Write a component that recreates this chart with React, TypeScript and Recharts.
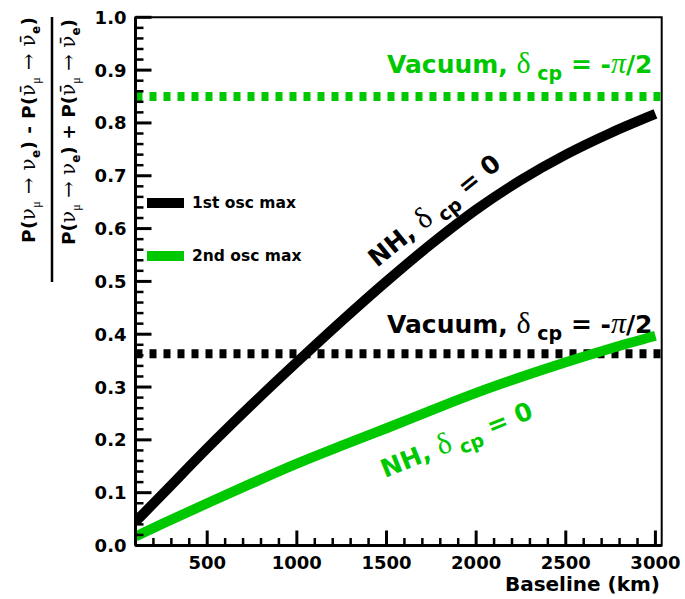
import React from 'react';
import { LineChart, Line, XAxis, YAxis, ReferenceLine, ReferenceArea, Legend, Customized } from 'recharts';

const baselines = [100, 250, 500, 750, 1000, 1250, 1500, 1750, 2000, 2250, 2500, 2750, 3000];
const nhFirstMax = [0.045, 0.097, 0.184, 0.267, 0.347, 0.425, 0.5, 0.571, 0.636, 0.692, 0.74, 0.781, 0.817];
const nhSecondMax = [0.017, 0.041, 0.08, 0.118, 0.155, 0.189, 0.222, 0.256, 0.289, 0.319, 0.347, 0.373, 0.397];
const vacuumFirstMax = 0.363;
const vacuumSecondMax = 0.85;

const xDomain = [100, 3035];
const xTicks = [200, 300, 400, 500, 600, 700, 800, 900, 1000, 1100, 1200, 1300, 1400, 1500, 1600, 1700, 1800, 1900, 2000, 2100, 2200, 2300, 2400, 2500, 2600, 2700, 2800, 2900, 3000];
const xMajorTicks = [500, 1000, 1500, 2000, 2500, 3000];
const yTicks = Array.from({ length: 51 }, (_, i) => Math.round(i * 2) / 100);
const yMajorLabels: Record<string, string> = {
  '0': '0.0', '0.1': '0.1', '0.2': '0.2', '0.3': '0.3', '0.4': '0.4', '0.5': '0.5',
  '0.6': '0.6', '0.7': '0.7', '0.8': '0.8', '0.9': '0.9', '1': '1.0',
};

const legendItems = [
  { label: '1st osc max', color: '#000000' },
  { label: '2nd osc max', color: '#00c800' },
];

const GREEN = '#00c800';
const FONT = 'DejaVu Sans';
const SERIF = 'Liberation Serif';
const NU_FONT = 'DejaVu Serif';

const data = baselines.map((b, i) => ({ baseline: b, first: nhFirstMax[i], second: nhSecondMax[i] }));

const YTick = (props: any) => {
  const { x, y, payload } = props;
  const v = payload.value;
  const label = yMajorLabels[String(v)];
  const major = label !== undefined;
  return (
    <g>
      <line x1={x} x2={x + (major ? 16 : 8)} y1={y} y2={y} stroke="#000" strokeWidth={major ? 3 : 2.5} />
      {major && (
        <text x={x - 9} y={y + 6.5} textAnchor="end" fontFamily={FONT} fontWeight="bold" fontSize={18} fill="#000">
          {label}
        </text>
      )}
    </g>
  );
};

const XTick = (props: any) => {
  const { x, y, payload } = props;
  const v = payload.value;
  const major = xMajorTicks.includes(v);
  return (
    <g>
      <line x1={x} x2={x} y1={y} y2={y - (major ? 15 : 7.5)} stroke="#000" strokeWidth={major ? 3 : 2.5} />
      {major && (
        <text x={x} y={y + 23} textAnchor="middle" fontFamily={FONT} fontWeight="bold" fontSize={18} fill="#000">
          {v}
        </text>
      )}
    </g>
  );
};

const Sub = ({ children, size = 12, dy = 5, serif = false }: any) => (
  <tspan fontSize={size} dy={dy} fontFamily={serif ? SERIF : FONT} fontWeight={serif ? 'normal' : 'bold'}>
    {children}
  </tspan>
);

const Fraction = ({ sign }: { sign: string }) => (
  <>
    <tspan>P(</tspan>
    <tspan fontFamily={NU_FONT} fontWeight="normal" fontSize={20}>ν</tspan>
    <Sub serif>μ</Sub>
    <tspan dy={-5} fontFamily={NU_FONT} fontWeight="normal" fontSize={20}> → ν</tspan>
    <Sub>e</Sub>
    <tspan dy={-5}>{`) ${sign} P(`}</tspan>
    <tspan fontFamily={NU_FONT} fontWeight="normal" fontSize={20}>{'ν\u0304'}</tspan>
    <Sub serif>μ</Sub>
    <tspan dy={-5} fontFamily={NU_FONT} fontWeight="normal" fontSize={20}>{' → ν\u0304'}</tspan>
    <Sub>e</Sub>
    <tspan dy={-5}>)</tspan>
  </>
);

const Label = ({ head, tail, color, transform, x, y }: any) => (
  <text x={x} y={y} transform={transform} fontFamily={FONT} fontWeight="bold" fontSize={25} fill={color}>
    {head}{' '}
    <tspan fontFamily={SERIF} fontWeight="normal" fontSize={30}>δ</tspan>
    <tspan fontSize={19} dy={7}> cp</tspan>
    <tspan dy={-7}>{tail}</tspan>
  </text>
);

const VacLabel = ({ color, x, y }: any) => (
  <text x={x} y={y} fontFamily={FONT} fontWeight="bold" fontSize={25} fill={color}>
    Vacuum,{' '}
    <tspan fontFamily={SERIF} fontWeight="normal" fontSize={30}>δ</tspan>
    <tspan fontSize={19} dy={7}> cp</tspan>
    <tspan dy={-7}> = -</tspan>
    <tspan fontFamily={SERIF} fontWeight="normal" fontStyle="italic" fontSize={30}>π</tspan>
    <tspan>/2</tspan>
  </text>
);

const Decorations = () => (
  <g>
    <g fontFamily={FONT} fontWeight="bold" fill="#000" fontSize={18.5}>
      <text transform="translate(35,130) rotate(-90)" textAnchor="middle" textLength={226} lengthAdjust="spacing">
        <Fraction sign="-" />
      </text>
      <line x1={52} x2={52} y1={17} y2={282} stroke="#000" strokeWidth={2.5} />
      <text transform="translate(75,132) rotate(-90)" textAnchor="middle" textLength={226} lengthAdjust="spacing">
        <Fraction sign="+" />
      </text>
    </g>
    <text x={660} y={591} textAnchor="end" fontFamily={FONT} fontWeight="bold" fontSize={20} fill="#000">
      Baseline (km)
    </text>
    <VacLabel color={GREEN} x={387} y={73} />
    <VacLabel color="#000" x={387} y={333} />
    <Label head="NH," tail=" = 0" color="#000" transform="translate(377,268) rotate(-39)" x={0} y={0} />
    <Label head="NH," tail=" = 0" color={GREEN} transform="translate(385,478) rotate(-22)" x={0} y={0} />
  </g>
);

const LegendContent = () => (
  <div style={{ fontFamily: FONT, fontWeight: 'bold', fontSize: 15.5, color: '#000' }}>
    {legendItems.map((item) => (
      <div key={item.label} style={{ display: 'flex', alignItems: 'center', height: 52.4 }}>
        <div style={{ width: 37, height: 10, background: item.color }} />
        <span style={{ marginLeft: 8.5, lineHeight: '16px' }}>{item.label}</span>
      </div>
    ))}
  </div>
);

export default function App() {
  return (
    <div style={{ position: 'absolute', left: 0, top: 0, width: 685, height: 599, background: '#fff' }}>
      <LineChart
        width={685}
        height={599}
        data={data}
        margin={{ top: 17.3, right: 23.3, left: 75.5, bottom: 0.5 }}
      >
        <XAxis
          dataKey="baseline"
          type="number"
          domain={xDomain}
          ticks={xTicks}
          interval={0}
          height={53}
          tickSize={0}
          tickMargin={0}
          tickLine={false}
          tick={<XTick />}
          axisLine={{ stroke: '#000', strokeWidth: 3 }}
          allowDataOverflow
        />
        <YAxis
          type="number"
          domain={[0, 1]}
          ticks={yTicks}
          interval={0}
          width={60}
          tickSize={0}
          tickMargin={0}
          tickLine={false}
          tick={<YTick />}
          axisLine={{ stroke: '#000', strokeWidth: 3 }}
          allowDataOverflow
        />
        <ReferenceArea x1={xDomain[0]} x2={xDomain[1]} y1={0} y2={1} fill="none" stroke="#000" strokeWidth={2} />
        <ReferenceLine y={vacuumSecondMax} stroke={GREEN} strokeWidth={9} strokeDasharray="7 7" />
        <ReferenceLine y={vacuumFirstMax} stroke="#000" strokeWidth={9} strokeDasharray="7 7" />
        <Line dataKey="first" type="monotone" stroke="#000" strokeWidth={10} dot={false} isAnimationActive={false} />
        <Line dataKey="second" type="monotone" stroke={GREEN} strokeWidth={10} dot={false} isAnimationActive={false} />
        <Legend
          layout="horizontal"
          verticalAlign="middle"
          align="center"
          content={<LegendContent />}
          wrapperStyle={{ left: 146.5, top: 177, width: 200 }}
        />
        <Customized component={Decorations} />
      </LineChart>
    </div>
  );
}
